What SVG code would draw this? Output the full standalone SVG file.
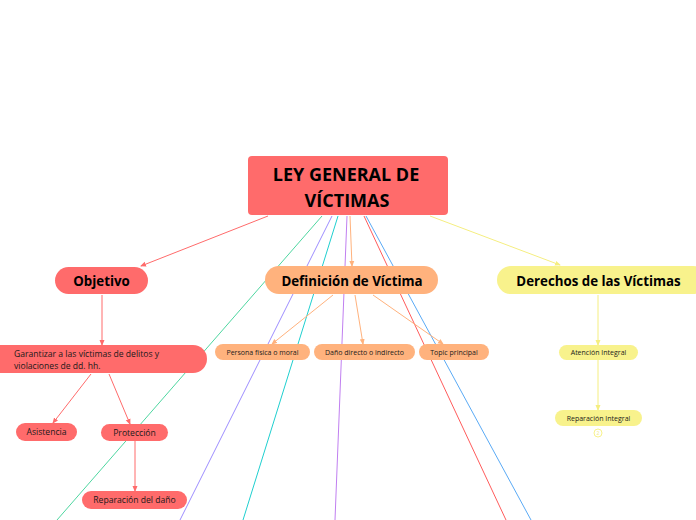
<svg xmlns="http://www.w3.org/2000/svg" width="696" height="520" viewBox="0 0 696 520">
<style>
  text { font-family: "Open Sans", "Noto Sans", "DejaVu Sans", sans-serif; text-anchor: middle; dominant-baseline: central; fill: #1a1a1a; }
  .title { font-size: 18px; font-weight: bold; fill: #000; }
  .main { font-size: 13.3px; font-weight: bold; fill: #000; }
  .small { font-size: 8.6px; }
  .tiny { font-size: 7px; }
  .red { fill: #ff6b6b; }
  .orange { fill: #ffb27d; }
  .yellow { fill: #f8f28c; }
  .c { fill: none; stroke-width: 1; }
</style>
<defs>
  <marker id="ar" viewBox="0 0 6 6" refX="5" refY="3" markerWidth="6" markerHeight="6" orient="auto" markerUnits="userSpaceOnUse"><path d="M0,0.5 L6,3 L0,5.5 z" fill="#ff6b6b"/></marker>
  <marker id="ao" viewBox="0 0 6 6" refX="5" refY="3" markerWidth="6" markerHeight="6" orient="auto" markerUnits="userSpaceOnUse"><path d="M0,0.5 L6,3 L0,5.5 z" fill="#ffb27d"/></marker>
  <marker id="ay" viewBox="0 0 6 6" refX="5" refY="3" markerWidth="6" markerHeight="6" orient="auto" markerUnits="userSpaceOnUse"><path d="M0,0.5 L6,3 L0,5.5 z" fill="#f5ee80"/></marker>
</defs>
<g id="connectors">
  <line class="c" x1="268" y1="216" x2="141" y2="266" stroke="#ff6b6b" marker-end="url(#ar)"/>
  <line class="c" x1="430" y1="216" x2="560" y2="265" stroke="#f5ee80" marker-end="url(#ay)"/>
  <line class="c" x1="322" y1="216" x2="57" y2="520" stroke="#4ed6a0"/>
  <line class="c" x1="332" y1="216" x2="180" y2="520" stroke="#9d8cff"/>
  <line class="c" x1="338" y1="216" x2="243" y2="520" stroke="#1fcfcf"/>
  <line class="c" x1="347" y1="216" x2="335" y2="520" stroke="#c07ff0"/>
  <line class="c" x1="350" y1="216" x2="352" y2="266" stroke="#ffb27d" marker-end="url(#ao)"/>
  <line class="c" x1="364" y1="216" x2="506" y2="520" stroke="#ff5c5c"/>
  <line class="c" x1="366" y1="216" x2="531" y2="520" stroke="#5aaaf5"/>
  <line class="c" x1="102" y1="295" x2="102" y2="345" stroke="#ff6b6b" marker-end="url(#ar)"/>
  <line class="c" x1="91" y1="374" x2="53" y2="423" stroke="#ff6b6b" marker-end="url(#ar)"/>
  <line class="c" x1="109" y1="374" x2="130" y2="424" stroke="#ff6b6b" marker-end="url(#ar)"/>
  <line class="c" x1="135" y1="441" x2="135" y2="491" stroke="#ff6b6b" marker-end="url(#ar)"/>
  <line class="c" x1="333" y1="295" x2="272" y2="344" stroke="#ffb27d" marker-end="url(#ao)"/>
  <line class="c" x1="355" y1="295" x2="363" y2="344" stroke="#ffb27d" marker-end="url(#ao)"/>
  <line class="c" x1="373" y1="295" x2="443" y2="344" stroke="#ffb27d" marker-end="url(#ao)"/>
  <line class="c" x1="598" y1="295" x2="598" y2="345" stroke="#f5ee80" marker-end="url(#ay)"/>
  <line class="c" x1="598" y1="360" x2="598" y2="410" stroke="#f5ee80" marker-end="url(#ay)"/>
</g>
<g id="n-ley">
  <rect class="red" x="248" y="156" width="200" height="59" rx="4"/>
  <text class="title" x="346" y="174">LEY GENERAL DE</text>
  <text class="title" x="347" y="200">VÍCTIMAS</text>
</g>
<g id="n-objetivo">
  <rect class="red" x="55" y="267" width="93" height="27" rx="13.5"/>
  <text class="main" x="101.5" y="281">Objetivo</text>
</g>
<g id="n-garantizar">
  <rect class="red" x="-14" y="345" width="221" height="28" rx="14"/>
  <text class="small" x="14" y="354" style="text-anchor:start">Garantizar a las víctimas de delitos y</text>
  <text class="small" x="14" y="366" style="text-anchor:start">violaciones de dd. hh.</text>
</g>
<g id="n-asistencia">
  <rect class="red" x="16" y="423" width="61" height="18" rx="9"/>
  <text class="small" x="46.5" y="432">Asistencia</text>
</g>
<g id="n-proteccion">
  <rect class="red" x="101" y="424" width="67" height="17" rx="8.5"/>
  <text class="small" x="134.5" y="432.5">Protección</text>
</g>
<g id="n-reparacion-dano">
  <rect class="red" x="82" y="491" width="105" height="18" rx="9"/>
  <text class="small" x="134.5" y="500">Reparación del daño</text>
</g>
<g id="n-definicion">
  <rect class="orange" x="265" y="266" width="173" height="28" rx="14"/>
  <text class="main" x="352" y="281">Definición de Víctima</text>
</g>
<g id="n-persona">
  <rect class="orange" x="215" y="344" width="95" height="16" rx="8"/>
  <text class="tiny" x="262.5" y="352.5">Persona física o moral</text>
</g>
<g id="n-dano">
  <rect class="orange" x="314" y="344" width="101" height="16" rx="8"/>
  <text class="tiny" x="364.5" y="352.5">Daño directo o indirecto</text>
</g>
<g id="n-topic">
  <rect class="orange" x="419" y="344" width="70" height="16" rx="8"/>
  <text class="tiny" x="454" y="352.5">Topic principal</text>
</g>
<g id="n-derechos">
  <rect class="yellow" x="497" y="266" width="210" height="28" rx="14"/>
  <text class="main" x="598.5" y="281">Derechos de las Víctimas</text>
</g>
<g id="n-atencion">
  <rect class="yellow" x="559" y="345" width="79" height="15" rx="7.5"/>
  <text class="tiny" x="598.5" y="352.5">Atención Integral</text>
</g>
<g id="n-reparacion-integral">
  <rect class="yellow" x="555" y="410" width="87" height="16" rx="8"/>
  <text class="tiny" x="598.5" y="418">Reparación Integral</text>
  <circle cx="598" cy="433" r="4" fill="#fff" stroke="#f8f28c" stroke-width="1"/>
  <text x="598" y="433.3" style="font-size:5px; fill:#f2ea80">2</text>
</g>
</svg>
